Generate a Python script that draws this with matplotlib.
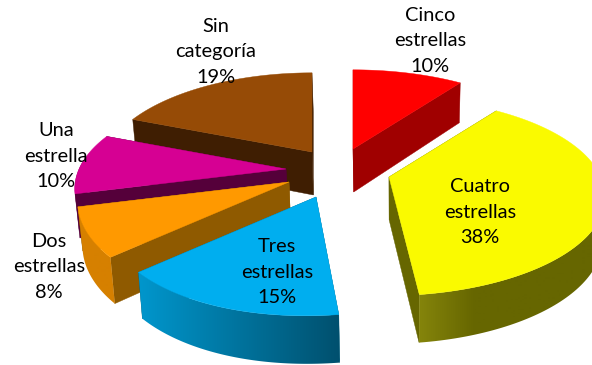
import numpy as np
import matplotlib
matplotlib.use('Agg')
import matplotlib.pyplot as plt
from matplotlib.patches import Polygon

plt.rcParams['font.family'] = ['Lato', 'DejaVu Sans']

categories = ['Cinco\nestrellas', 'Cuatro\nestrellas', 'Tres\nestrellas', 'Dos\nestrellas', 'Una\nestrella', 'Sin\ncategoría']
values = [10, 38, 15, 8, 10, 19]

top_colors = ['#ff0000', '#fafa00', '#00aeef', '#ff9900', '#d60093', '#964b06']
cut_colors = ['#a00000', '#666600', '#006080', '#8f5a00', '#55003a', '#3f1e02']
wall_left = ['#a00000', '#87870c', '#0096cc', '#d68000', '#55003a', '#3f1e02']
wall_right = ['#a00000', '#666600', '#00506e', '#d68000', '#55003a', '#3f1e02']
grad_range = [(0, 1), (415, 475), (140, 340), (0, 1), (0, 1), (0, 1)]

# where each slice tip sits after the explosion, in pixels
apex = [(353, 149), (389, 177), (316, 197), (289, 182), (286, 169), (312, 152)]
front_skew = [0, 3, 11, 15, 0, 0]
draw_order = [5, 4, 3, 2, 0, 1]

label_pos = [(430, 41), (480, 212), (277, 272), (49, 267), (56, 156), (216, 52)]

RX_LEFT, RX_RIGHT, RY, K, DEPTH = 207, 212, 95, 0.2, 43


def project(t, tip, skew=0):
    c, s = np.cos(t), np.sin(t)
    p = 1 / (1 + K * s)
    y = RY * s * p
    x = np.where(c > 0, RX_RIGHT, RX_LEFT) * c * p + skew * np.minimum(y / 120, 0) ** 3
    return np.column_stack([tip[0] + x, tip[1] - y]), p


def drop(pts, p):
    # same points moved down to the bottom of the slice
    out = pts.copy()
    out[:, 0] += 0.015 * (400 - out[:, 0])
    out[:, 1] += DEPTH * np.sqrt(p)
    return out


def mix(a, b, f):
    a = np.array(matplotlib.colors.to_rgb(a))
    b = np.array(matplotlib.colors.to_rgb(b))
    return a + (b - a) * f


fig = plt.figure(figsize=(5.92, 3.65), dpi=100)
ax = fig.add_axes([0, 0, 1, 1])
ax.axis('off')

edges = np.cumsum([0] + values) / sum(values)
z = 1
for i in draw_order:
    t0 = np.pi / 2 - 2 * np.pi * edges[i]
    t1 = np.pi / 2 - 2 * np.pi * edges[i + 1]
    t = np.linspace(t0, t1, 120)
    tip = apex[i]
    arc, p = project(t, tip, front_skew[i])
    low = drop(arc, p)
    tip_arr = np.array([tip], dtype=float)
    tip_low = drop(tip_arr, np.array([1.0]))

    # flat cut faces, the top face covers the one turned away
    for idx in (0, -1):
        quad = [tip_arr[0], arc[idx], low[idx], tip_low[0]]
        ax.add_patch(Polygon(quad, closed=True, fc=cut_colors[i], ec=cut_colors[i], lw=0.3, zorder=z))
    z += 1

    # round outer wall with left to right gradient
    front = np.sin(t) < 0.1
    if front.any():
        g0, g1 = grad_range[i]
        xs = np.arange(593)
        f = np.clip((xs - g0) / (g1 - g0), 0, 1)[None, :, None]
        grad = mix(wall_left[i], wall_right[i], f)
        wall = Polygon(np.vstack([arc[front], low[front][::-1]]), closed=True, transform=ax.transData)
        im = ax.imshow(grad, extent=[0, 592, 365, 0], aspect='auto', zorder=z)
        im.set_clip_path(wall)
    z += 1

    top = np.vstack([tip_arr, arc])
    ax.add_patch(Polygon(top, closed=True, fc=top_colors[i], ec=top_colors[i], lw=0.3, zorder=z))
    z += 1

for cat, val, pos in zip(categories, values, label_pos):
    ax.text(pos[0], pos[1], '{}\n{}%'.format(cat, val), ha='center', va='center',
            fontsize=14.4, color='black', linespacing=1.62, zorder=z)

ax.set_xlim(0, 592)
ax.set_ylim(365, 0)
plt.savefig('out.png', dpi=100)
